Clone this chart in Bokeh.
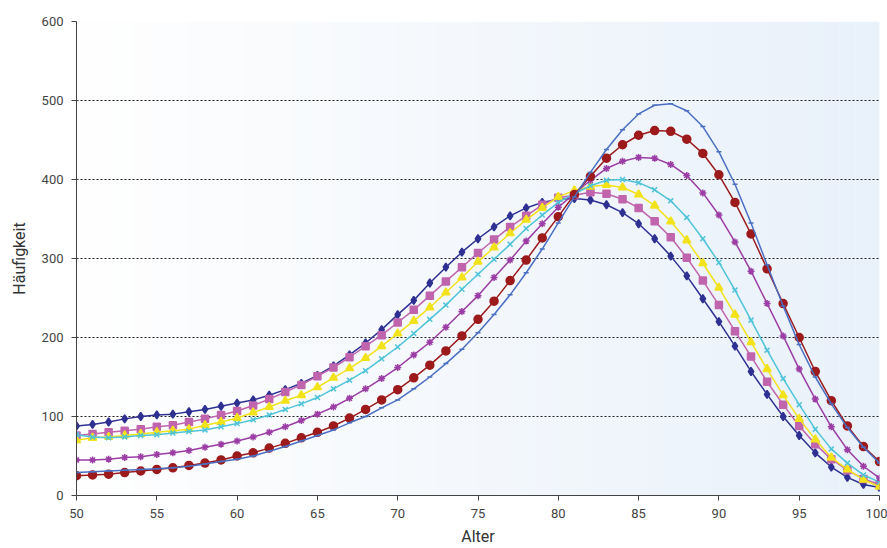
import numpy as np
from bokeh.plotting import figure
from bokeh.embed import file_html
from bokeh.resources import INLINE
from bokeh.models import FixedTicker, Range1d

ages = list(range(50, 101))

navy = [88, 90, 93, 97, 100, 102, 103, 106, 109, 113, 117, 121, 127, 134, 142, 152, 164, 178, 193, 210,
        229, 247, 269, 289, 308, 325, 340, 354, 364, 371, 375, 376, 374, 368, 358, 344, 325, 303, 278, 249,
        220, 189, 157, 128, 100, 76, 54, 36, 23, 14, 10]
pink = [76, 78, 80, 82, 84, 87, 89, 93, 97, 102, 107, 114, 122, 131, 140, 151, 162, 175, 189, 203,
        219, 235, 253, 271, 289, 307, 324, 340, 354, 368, 377, 380, 384, 382, 375, 364, 347, 327, 301, 272,
        241, 208, 176, 144, 115, 88, 65, 46, 32, 21, 14]
yellow = [70, 73, 74, 76, 78, 80, 82, 84, 89, 93, 98, 105, 112, 120, 127, 137, 149, 161, 174, 189,
          205, 221, 238, 257, 276, 296, 314, 332, 349, 364, 378, 386, 391, 393, 390, 381, 367, 347, 323, 294,
          263, 229, 194, 160, 127, 97, 71, 48, 33, 20, 11]
cyan = [77, 74, 73, 74, 76, 77, 79, 81, 83, 87, 91, 96, 102, 109, 116, 124, 135, 146, 158, 173,
        188, 205, 223, 241, 261, 280, 299, 318, 338, 355, 371, 382, 392, 399, 400, 396, 387, 373, 352, 325,
        295, 260, 222, 184, 148, 115, 84, 59, 41, 26, 17]
purple = [45, 45, 46, 48, 49, 52, 54, 57, 61, 65, 69, 74, 80, 87, 95, 103, 112, 123, 135, 148,
          162, 178, 194, 213, 233, 253, 276, 298, 322, 344, 365, 382, 399, 414, 423, 428, 427, 419, 405, 383,
          355, 321, 284, 243, 202, 160, 122, 87, 58, 37, 22]
red = [25, 26, 27, 29, 31, 33, 35, 38, 41, 45, 50, 54, 60, 66, 73, 80, 88, 98, 109, 121,
       134, 149, 165, 183, 202, 223, 246, 272, 298, 326, 353, 381, 404, 427, 444, 456, 462, 461, 451, 433,
       406, 371, 331, 287, 243, 200, 157, 120, 88, 62, 43]
blue = [29, 30, 31, 32, 33, 34, 35, 37, 40, 43, 46, 50, 56, 62, 69, 76, 83, 92, 100, 111,
        121, 135, 150, 167, 185, 206, 229, 254, 282, 312, 345, 378, 409, 438, 463, 483, 494, 496, 487, 467,
        435, 394, 345, 292, 240, 191, 150, 116, 86, 61, 41]

x_ticks = [50, 55, 60, 65, 70, 75, 80, 85, 90, 95, 100]
y_ticks = [0, 100, 200, 300, 400, 500, 600]

p = figure(width=887, height=548, output_backend="svg", toolbar_location=None,
           x_range=Range1d(50, 100), y_range=Range1d(0, 600),
           min_border_left=76, min_border_right=8, min_border_top=21, min_border_bottom=53)
p.outline_line_color = None
p.background_fill_color = "white"
p.border_fill_color = "white"

# horizontal gradient background (vertical strips spanning the plot area)
n = 100
edges = np.linspace(50, 100, n + 1)
t = (np.arange(n) + 0.5) / n
cols = ["#%02x%02x%02x" % (int(255 - 22 * s), int(255 - 14 * s), int(255 - 5 * s)) for s in t]
p.quad(left=edges[:-1], right=edges[1:] + 0.02, bottom=0, top=600,
       fill_color=cols, line_color=None, level="image")

p.xgrid.grid_line_color = None
p.ygrid.ticker = FixedTicker(ticks=y_ticks)
p.ygrid.grid_line_color = "#222222"
p.ygrid.grid_line_dash = "2 2"
p.ygrid.grid_line_width = 1
p.ygrid.level = "underlay"

series = [
    (navy, "#2E3092", "diamond", 8),
    (pink, "#C064AE", "square", 7),
    (yellow, "#F2E21A", "triangle", 8),
    (cyan, "#4FC4D9", "x", 7),
    (purple, "#9B3DA5", "asterisk", 7),
    (red, "#9C1A1C", "circle", 8),
    (blue, "#4A6FC2", "dash", 5),
]
for vals, col, mk, sz in series:
    p.line(ages, vals, line_color=col, line_width=1.5)
    p.scatter(ages, vals, marker=mk, size=sz, line_color=col, fill_color=col, line_width=1.5)

for ax in (p.xaxis, p.yaxis):
    ax.axis_line_color = "#444444"
    ax.major_tick_line_color = "#444444"
    ax.minor_tick_line_color = None
    ax.major_tick_out = 5
    ax.major_tick_in = 0
    ax.major_label_text_font = "Roboto"
    ax.major_label_text_font_size = "13px"
    ax.major_label_text_color = "#444444"
    ax.axis_label_text_font = "Roboto"
    ax.axis_label_text_font_size = "16px"
    ax.axis_label_text_font_style = "normal"
    ax.axis_label_text_color = "#333333"

p.xaxis.ticker = FixedTicker(ticks=x_ticks)
p.yaxis.ticker = FixedTicker(ticks=y_ticks)
p.xaxis.axis_label = "Alter"
p.yaxis.axis_label = "Häufigkeit"
p.xaxis.major_label_standoff = 8
p.yaxis.major_label_standoff = 8
p.xaxis.axis_label_standoff = 6
p.yaxis.axis_label_standoff = 10

open("out.html", "w").write(file_html(p, INLINE))
